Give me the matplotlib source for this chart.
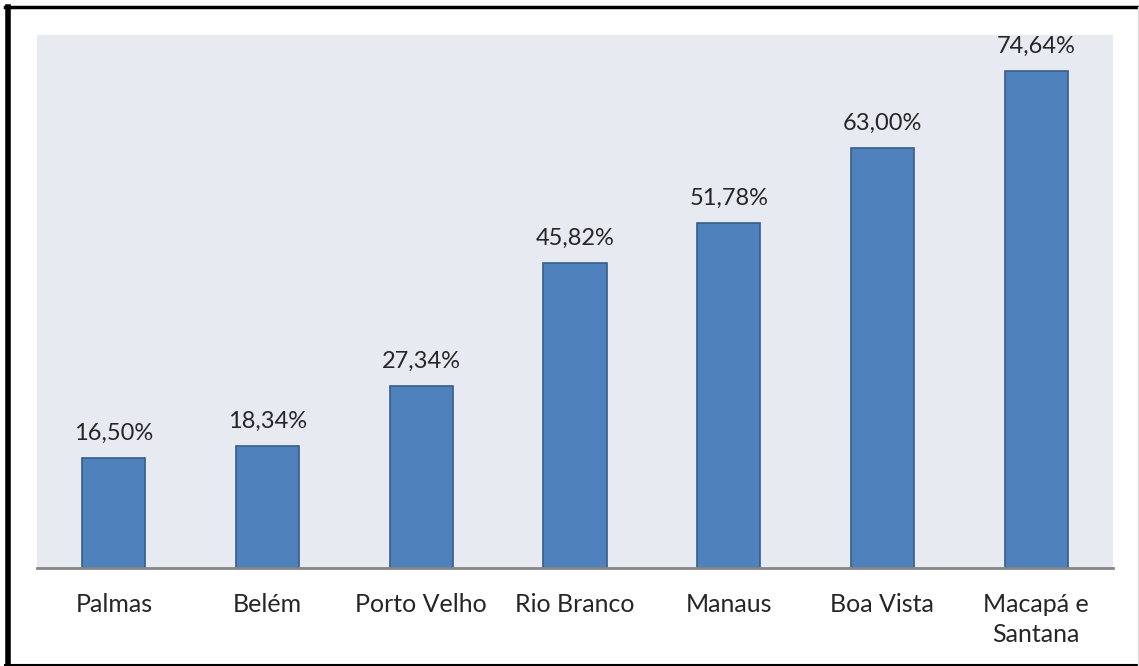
import matplotlib.pyplot as plt
from matplotlib.lines import Line2D

cidades = ["Palmas", "Belém", "Porto Velho", "Rio Branco", "Manaus", "Boa Vista", "Macapá e\nSantana"]
percentuais = [16.50, 18.34, 27.34, 45.82, 51.78, 63.00, 74.64]
rotulos = ["16,50%", "18,34%", "27,34%", "45,82%", "51,78%", "63,00%", "74,64%"]

plt.rcParams['font.family'] = ['Lato', 'DejaVu Sans']

W, H = 1139, 666
fig = plt.figure(figsize=(W / 100, H / 100), dpi=100)
ax = fig.add_axes([37 / W, 1 - 567.7 / H, (1113 - 37) / W, (567.7 - 35) / H])
ax.set_facecolor("#E8EAF2")

x = range(len(cidades))
ax.bar(x, percentuais, width=0.41, color="#4F81BD", edgecolor="#385D8A", linewidth=1.2, zorder=2)

for i, (v, r) in enumerate(zip(percentuais, rotulos)):
    ax.annotate(r, (i, v), xytext=(0, 10), textcoords="offset points",
                ha="center", va="bottom", fontsize=17, color="#262626")

ax.set_xlim(-0.5, len(cidades) - 0.5)
ax.set_ylim(0, 80)
ax.set_yticks([])
ax.set_xticks(list(x))
ax.set_xticklabels(cidades, fontsize=18, color="#262626", linespacing=1.4, va="top")
ax.tick_params(axis="x", length=0, pad=18)
for t in ax.xaxis.get_major_ticks():
    t.label1.set_multialignment("center")
for s in ["top", "right", "left"]:
    ax.spines[s].set_visible(False)
ax.spines["bottom"].set_color("#868686")
ax.spines["bottom"].set_linewidth(2)

# moldura
fig.add_artist(Line2D([7.5 / W, 7.5 / W], [1 - 6.5 / H, 1 - 664.5 / H], color="black", lw=4, transform=fig.transFigure))
fig.add_artist(Line2D([5 / W, 1], [1 - 6.5 / H, 1 - 6.5 / H], color="black", lw=2.5, transform=fig.transFigure))
fig.add_artist(Line2D([5 / W, 1], [1 - 664.5 / H, 1 - 664.5 / H], color="black", lw=1.5, transform=fig.transFigure))
fig.add_artist(Line2D([1137.5 / W, 1137.5 / W], [1 - 6.5 / H, 1 - 664.5 / H], color="#DDDDDD", lw=1, transform=fig.transFigure))

fig.savefig("out.png", dpi=100)
